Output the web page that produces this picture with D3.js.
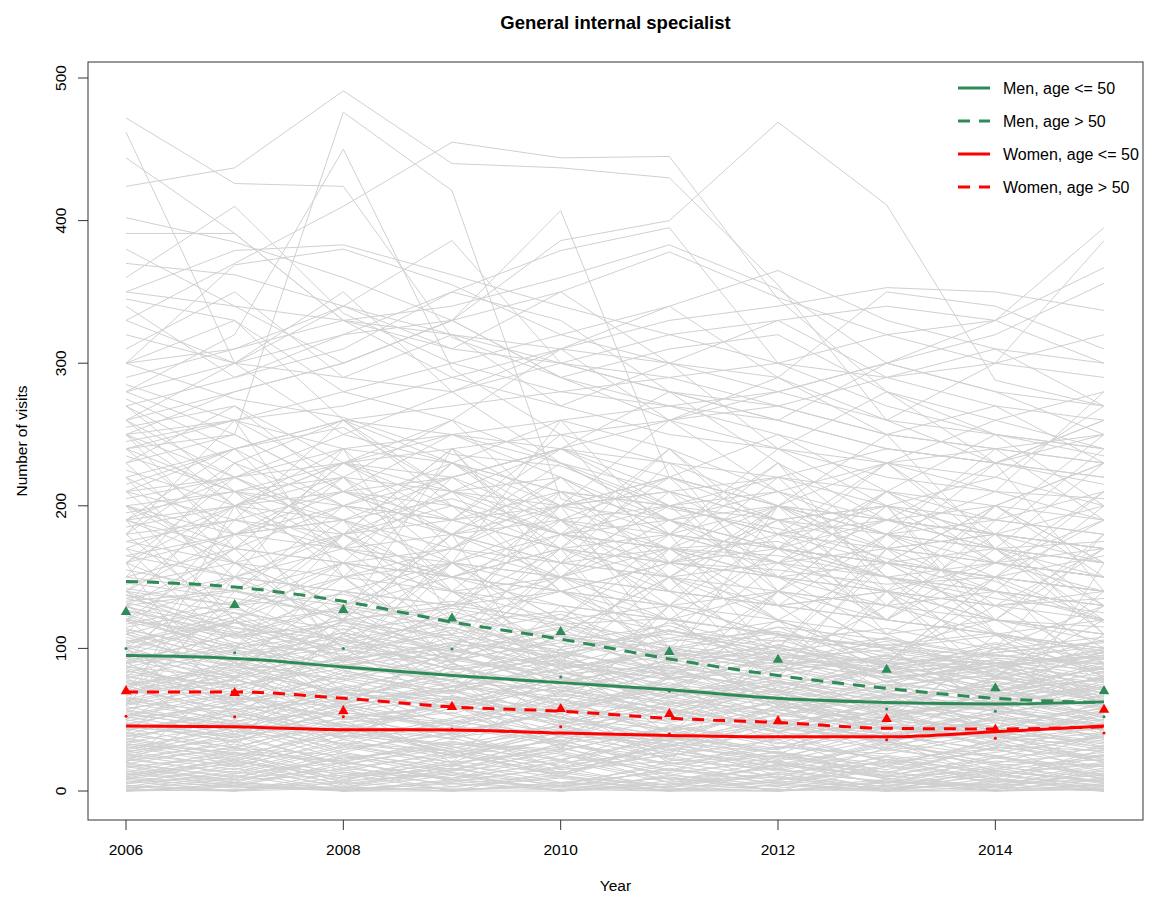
<!DOCTYPE html>
<html>
<head>
<meta charset="utf-8">
<script src="https://cdn.jsdelivr.net/npm/d3@7"></script>
<style>
  body { margin: 0; background: #fff; }
  svg { font-family: "Liberation Sans", Arial, Helvetica, sans-serif; display: block; }
</style>
</head>
<body>
<div id="chart"></div>
<script>
// years on x axis
const years = [2006, 2007, 2008, 2009, 2010, 2011, 2012, 2013, 2014, 2015];
const xTicks = [2006, 2008, 2010, 2012, 2014];
const yTicks = [0, 100, 200, 300, 400, 500];

// smoothed group trends
const menYoung   = [95, 93, 87, 81, 76, 71, 65, 62, 61, 62.5];
const menOld     = [147, 143, 133, 118.5, 106.5, 92.6, 81, 72, 65, 62];
const womenYoung = [45.6, 45, 43, 42.8, 40.6, 39, 38, 38, 41.5, 45.6];
const womenOld   = [69.5, 69.5, 65, 59, 56, 51, 48, 44, 43.5, 45];

// yearly means (triangles) and medians (small dots)
const menMean     = [125.5, 130.4, 127, 121, 111.5, 97.5, 92, 85, 72, 70];
const womenMean   = [70, 68.7, 56, 59, 57.5, 54, 49, 50.5, 43, 57];
const menMedian   = [100, 97, 100, 99.6, 80, 70, 65, 57.5, 56, 52];
const womenMedian = [52.5, 52, 52, 43.5, 45, 40, 38, 36, 37, 40.7];

// individual physicians (grey)
const highLines = [
  [472,426,424,318,290,260,240,230,220,200],
  [424,437,491,440,437,430,355,260,230,215],
  [462,300,250,230,210,200,190,180,170,160],
  [444,391,330,290,270,250,240,220,210,205],
  [240,250,476,421,205,180,170,160,150,140],
  [280,320,450,296,250,230,200,190,180,170],
  [360,410,335,300,280,270,250,230,240,250],
  [402,385,360,330,290,270,260,240,230,220],
  [330,370,410,455,444,445,345,280,250,235],
  [391,391,330,310,300,280,270,250,240,230],
  [300,369,380,355,320,300,280,260,250,240],
  [350,379,383,362,340,320,300,290,270,260],
  [370,362,340,320,300,290,270,250,240,230],
  [290,310,340,386,300,280,260,240,230,220],
  [250,280,300,330,407,220,200,190,180,170],
  [270,290,320,350,379,395,300,270,250,240],
  [260,280,300,330,386,400,469,411,288,270],
  [300,310,330,340,360,383,352,300,280,270],
  [280,300,320,330,350,378,346,320,300,290],
  [250,260,280,300,320,340,365,330,310,300],
  [240,260,270,290,310,330,340,353,350,337],
  [220,240,260,270,280,290,300,320,330,395],
  [200,210,230,240,250,260,270,290,300,386],
  [210,220,230,250,260,270,280,300,330,367],
  [190,200,210,220,240,260,280,300,320,356],
  [350,340,330,320,310,300,290,350,340,310],
  [345,330,260,250,240,230,220,210,200,190],
  [320,300,290,280,300,320,330,340,330,300],
  [330,300,350,280,310,260,290,250,270,230],
  [310,350,290,320,270,300,240,280,230,260],
  [380,340,300,330,290,310,320,280,260,280],
  [260,300,340,310,350,300,330,290,310,270],
  [340,290,310,350,330,280,260,300,280,250],
  [300,330,280,260,310,340,290,260,300,320]
];

const midLines = [
  [285,260,240,250,230,210,220,200,190,180],
  [270,230,260,210,200,220,190,170,180,160],
  [255,270,230,220,240,200,180,190,170,175],
  [240,210,220,260,230,190,200,180,160,150],
  [230,250,210,200,180,190,170,160,150,140],
  [225,200,230,210,220,180,160,170,180,200],
  [215,240,200,190,210,200,180,160,170,150],
  [210,190,180,200,170,160,150,140,160,150],
  [205,220,240,230,200,210,190,200,180,170],
  [200,180,190,170,160,170,150,160,140,130],
  [195,210,200,220,190,180,200,170,160,150],
  [190,170,160,150,170,150,140,130,140,120],
  [185,200,220,210,180,160,170,150,130,140],
  [180,190,170,180,160,150,160,140,130,120],
  [175,160,180,190,170,180,160,150,140,130],
  [170,200,190,160,150,140,130,140,120,110],
  [165,150,170,160,180,170,150,130,120,115],
  [160,180,170,150,140,160,150,140,130,135],
  [155,140,160,170,150,140,130,120,110,100],
  [150,170,160,140,150,130,120,110,120,105],
  [145,160,150,160,140,130,140,120,110,100],
  [140,130,150,140,130,120,110,100,90,95],
  [135,150,140,130,120,130,110,100,95,90],
  [130,140,120,130,140,120,110,100,90,85],
  [260,220,180,150,170,140,130,120,110,120],
  [120,150,180,210,240,220,200,180,190,210],
  [110,130,160,150,180,200,220,240,230,250],
  [100,120,150,170,200,190,210,230,210,280],
  [300,275,262,236,228,198,184,163,147,118],
  [90,110,140,160,150,180,170,190,200,230],
  [275,240,255,210,190,170,175,150,140,130],
  [245,260,220,180,200,210,170,160,150,165],
  [235,210,190,205,180,170,165,150,135,125],
  [220,180,200,190,170,160,155,145,150,140],
  [180,230,200,180,190,200,210,180,170,160],
  [160,200,230,200,180,170,160,190,180,170],
  [140,180,210,250,220,190,170,160,150,140],
  [130,170,200,230,260,240,210,190,170,160],
  [150,140,130,160,190,220,250,210,190,180],
  [170,150,140,130,150,170,200,230,260,240],
  [120,110,130,150,140,160,180,200,220,270],
  [200,160,130,120,140,130,110,100,120,110],
  [210,240,260,230,210,190,170,150,160,170],
  [250,200,170,150,130,120,140,130,110,100],
  [280,250,210,180,160,150,130,140,120,110],
  [190,220,250,280,230,200,180,170,160,150],
  [175,190,210,190,200,220,200,180,210,190],
  [165,180,190,220,240,210,190,200,180,240]
];

const lowLines = [
  [95,120,88,102,76,91,70,84,66,79],
  [130,104,96,115,89,78,93,72,85,64],
  [42,58,37,66,49,31,55,40,28,47],
  [12,5,18,3,9,0,7,2,11,4],
  [74,51,68,83,59,72,47,61,53,70],
  [26,38,19,30,44,22,15,33,20,27],
  [108,86,125,94,110,82,99,77,90,68],
  [3,14,0,8,2,16,5,0,9,1],
  [61,79,55,48,70,63,41,57,50,36],
  [88,67,80,95,74,60,86,69,58,77],
  [35,22,47,29,18,40,26,13,31,21],
  [117,133,102,90,121,97,84,108,79,93],
  [52,40,63,71,45,56,38,49,60,42],
  [19,31,10,24,36,14,28,8,21,17],
  [140,112,98,126,105,116,92,87,101,83],
  [68,92,75,58,83,66,78,54,62,73],
  [7,0,13,5,1,10,0,6,3,12],
  [81,64,72,89,67,54,76,62,49,58],
  [45,66,51,39,57,70,44,35,52,46],
  [23,12,29,41,16,25,9,30,18,6],
  [101,79,114,87,95,72,103,81,69,88],
  [57,73,44,62,81,50,67,43,55,64],
  [30,45,26,17,39,33,21,37,14,25],
  [123,96,108,131,85,99,111,76,92,80],
  [9,22,4,15,27,6,18,11,2,14],
  [72,56,85,64,52,79,61,48,70,57],
  [48,34,59,43,65,38,30,53,41,33],
  [16,27,8,21,12,33,19,5,24,10],
  [112,90,78,103,97,84,71,95,82,66],
  [64,83,70,54,77,88,58,66,74,51],
  [38,50,27,45,32,24,46,35,19,39],
  [1,9,15,0,6,3,12,0,7,2],
  [91,110,84,73,99,80,67,88,76,63],
  [55,42,66,78,47,59,71,45,37,56],
  [28,17,36,23,42,29,16,34,25,11],
  [135,118,127,106,93,112,100,89,97,104],
  [79,98,63,87,71,57,82,68,59,75],
  [14,3,20,9,25,12,0,17,6,19],
  [104,125,92,81,109,94,86,73,100,85],
  [47,61,53,36,58,43,64,39,48,31],
  [21,35,14,28,10,37,23,15,30,8],
  [86,71,94,77,63,85,69,91,57,72],
  [59,46,38,67,52,35,60,47,42,62],
  [5,18,2,11,0,7,21,4,13,0],
  [119,101,88,97,114,79,91,84,73,98],
  [70,87,78,62,55,73,65,51,68,59],
  [33,24,43,37,21,46,31,26,39,22],
  [97,76,105,85,92,68,80,96,74,86],
  [11,26,6,19,31,9,3,22,14,7],
  [66,52,74,45,69,54,77,58,44,61],
  [40,57,32,50,35,61,42,29,53,37],
  [127,109,116,99,88,107,95,82,90,78],
  [18,7,25,13,4,20,10,0,16,5],
  [83,99,70,92,80,65,88,74,61,81],
  [50,37,62,41,56,47,33,59,45,30],
  [24,40,18,33,26,14,38,21,9,29],
  [106,88,119,95,78,101,85,92,70,87],
  [63,78,57,70,49,66,53,71,62,48],
  [2,11,0,6,17,1,8,14,0,5],
  [93,74,86,108,83,71,97,79,88,66],
  [36,54,45,27,49,39,58,32,43,35],
  [76,60,83,69,91,64,56,75,67,53],
  [13,29,21,7,16,32,11,24,4,18],
  [114,95,103,121,90,82,106,87,78,94],
  [53,69,41,58,73,48,62,39,54,67],
  [31,19,39,25,12,34,27,17,36,20],
  [99,118,107,85,96,113,90,80,84,76],
  [44,30,52,60,38,27,49,56,34,41],
  [8,20,12,0,14,4,19,9,1,15],
  [85,63,77,96,72,87,64,58,79,69],
  [69,84,61,76,58,51,73,64,57,46],
  [27,42,33,20,47,25,36,12,31,23],
  [132,115,99,110,124,98,87,103,93,89],
  [57,45,70,53,40,63,48,37,58,50],
  [4,0,10,16,3,0,13,7,0,9],
  [89,104,81,70,86,97,76,69,83,72],
  [41,28,48,55,33,44,26,51,38,27],
  [74,90,66,80,95,70,62,77,65,80],
  [17,6,24,11,30,15,5,22,12,3],
  [121,100,111,92,104,89,115,86,96,82],
  [49,63,36,51,64,42,53,46,33,55],
  [0,5,0,3,10,0,2,8,0,4],
  [65,48,73,61,46,69,55,43,64,52],
  [103,122,94,113,86,100,92,105,81,97],
  [34,47,29,40,22,36,50,28,41,34],
  [80,69,91,74,66,83,71,60,77,65],
  [22,13,31,18,38,23,14,29,19,12],
  [110,92,100,118,96,86,102,90,85,100],
  [60,75,52,47,68,58,44,63,56,45],
  [6,16,3,13,0,11,4,18,8,0],
  [94,80,99,86,75,92,81,71,88,73],
  [46,35,57,42,54,32,47,38,50,43],
  [29,44,22,35,17,31,41,20,27,38],
  [138,107,120,100,115,94,108,97,88,106],
  [71,57,64,84,60,76,52,67,72,58],
  [10,23,7,26,13,2,19,10,25,8],
  [87,102,79,68,90,74,95,83,67,84],
  [52,67,46,37,62,55,41,66,48,39],
  [20,9,27,15,33,18,7,25,15,32],
  [67,81,59,71,54,80,63,50,69,60],
  [3,0,6,1,4,9,0,2,5,0],
  [0,4,1,7,0,3,6,0,1,8],
  [15,8,11,19,6,13,21,9,4,16],
  [25,15,32,20,28,11,24,18,35,13],
  [37,26,21,34,29,43,19,31,24,40],
  [43,55,39,32,46,28,51,36,40,29],
  [9,2,7,12,0,5,10,3,14,6],
  [0,1,3,0,6,0,0,4,0,2],
  [32,21,42,27,35,19,30,41,23,17],
  [54,44,60,49,39,57,45,34,51,44],
  [11,19,5,14,22,8,16,1,12,20],
  [19,10,23,31,13,26,20,13,7,25],
  [62,49,56,65,51,43,59,53,38,57],
  [78,65,59,73,85,61,68,55,63,54],
  [2,6,0,0,4,1,0,7,3,0],
  [39,31,49,24,41,35,22,45,32,28],
  [73,88,69,59,79,67,74,56,80,63],
  [84,73,95,81,69,90,77,65,71,78],
  [126,111,91,104,117,92,97,83,103,86],
  [23,33,16,26,11,29,17,35,10,26],
  [5,12,20,8,3,15,9,1,6,11],
  [14,6,2,18,10,4,13,20,8,3],
  [28,36,44,31,22,38,27,19,33,24],
  [33,27,20,38,45,30,24,39,29,17],
  [47,39,55,46,34,51,42,57,36,44],
  [58,68,50,61,73,56,47,52,65,49],
  [77,62,71,66,58,74,69,53,61,72],
  [90,99,86,78,92,81,74,87,70,79],
  [102,91,111,98,87,94,101,83,90,77],
  [115,128,105,98,110,102,93,99,88,95],
  [124,102,118,109,99,113,96,90,104,92],
  [137,125,113,122,108,100,115,106,94,101],
  [142,130,138,118,126,112,105,114,99,108],
  [146,135,124,133,117,121,109,102,111,96],
  [8,3,1,5,11,2,0,6,4,9],
  [1,0,2,0,0,5,1,0,3,0],
  [0,3,0,2,1,0,4,0,0,1],
  [17,24,13,9,20,27,15,6,18,22],
  [26,18,34,28,15,21,31,24,12,19],
  [39,48,33,26,43,37,29,46,38,31],
  [45,38,51,59,42,35,48,40,55,37],
  [51,60,46,40,57,49,63,44,39,53],
  [63,55,69,58,48,62,53,68,56,47],
  [69,78,62,73,64,55,70,59,66,73],
  [82,74,89,77,70,86,79,66,74,63],
  [96,85,92,104,88,79,84,95,80,72],
  [105,118,99,91,106,97,89,93,86,99],
  [120,108,129,114,101,110,98,107,95,89],
  [133,141,120,128,116,107,119,100,109,98],
  [10,4,16,8,21,6,12,3,17,9],
  [21,30,25,14,33,19,27,11,23,30],
  [36,25,41,33,28,45,34,22,30,38],
  [56,47,43,60,52,38,57,49,45,58],
  [75,85,68,64,78,71,59,74,81,62],
  [98,88,106,93,82,99,91,79,87,94],
  [129,114,106,119,97,105,112,94,89,97],
  [12,21,9,16,5,18,25,10,14,7],
  [44,53,38,47,59,41,36,52,43,50],
  [87,79,93,100,82,88,75,85,92,71],
  [113,99,121,106,94,118,100,88,97,105]
];

const jumpyLines = [
  [30,120,60,20,90,150,70,40,110,60],
  [160,50,110,80,30,100,60,140,70,90],
  [60,200,90,130,170,80,120,60,100,40],
  [20,80,160,90,50,130,40,90,150,70],
  [140,90,40,120,200,100,60,30,80,130],
  [80,30,120,180,60,20,110,70,40,160],
  [200,120,70,40,100,160,220,150,90,60],
  [50,150,240,120,80,60,140,200,110,80],
  [100,40,80,160,260,180,90,50,30,100],
  [180,260,150,90,60,120,80,170,230,140],
  [120,70,30,90,150,210,130,80,40,20],
  [40,100,180,240,160,100,60,90,150,210],
  [250,170,100,60,30,80,140,100,60,40],
  [70,160,220,140,100,50,90,160,120,80],
  [20,60,110,70,130,80,30,50,100,180],
  [190,110,60,140,90,40,100,170,110,60],
  [90,180,120,240,150,90,200,130,180,110],
  [220,140,190,100,160,230,140,200,120,170],
  [150,230,170,120,210,140,100,180,240,190],
  [60,140,200,150,90,170,230,140,80,120],
  [230,160,110,190,250,160,120,90,140,200],
  [110,190,260,200,140,110,170,230,180,130],
  [170,100,150,220,170,240,180,120,170,230],
  [130,210,150,100,180,130,200,250,170,110],
  [240,180,220,160,110,150,90,130,200,160],
  [80,130,90,170,220,150,190,110,80,140],
  [190,240,170,210,140,100,160,120,190,250],
  [100,60,130,90,160,200,140,180,130,90],
  [260,200,240,170,210,160,190,140,100,130],
  [140,200,160,230,180,240,170,120,160,210],
  [70,120,180,130,190,120,80,140,200,150],
  [210,150,100,160,120,180,230,170,140,100],
  [120,170,230,260,190,140,200,160,120,180],
  [180,120,160,110,170,220,150,210,250,200],
  [50,90,140,110,70,130,180,230,170,120],
  [160,220,180,140,200,260,210,150,110,90],
  [230,270,210,180,150,120,170,210,160,140],
  [100,150,120,180,230,190,150,110,150,190],
  [270,210,170,230,190,150,200,160,200,230],
  [90,60,110,160,120,90,140,100,60,110],
  [200,170,230,190,240,280,230,190,230,260],
  [130,90,60,100,150,190,160,210,170,130],
  [250,220,190,140,120,170,130,180,150,120],
  [160,130,180,240,200,170,120,90,130,170],
  [110,80,120,70,110,150,120,160,200,160],
  [190,160,130,180,220,180,240,200,160,190]
];

const legendItems = [
  { label: "Men, age <= 50", color: "#2E8B57", dash: null },
  { label: "Men, age > 50", color: "#2E8B57", dash: "12,9" },
  { label: "Women, age <= 50", color: "#FF0000", dash: null },
  { label: "Women, age > 50", color: "#FF0000", dash: "12,9" }
];

const W = 1157, H = 908;
const box = { left: 88, right: 1143, top: 62, bottom: 820 };

const svg = d3.select("#chart").append("svg")
  .attr("width", W).attr("height", H);

const x = d3.scaleLinear().domain([2006, 2015]).range([126, 1104]);
const y = d3.scaleLinear().domain([0, 500]).range([791, 78]);

// grey spaghetti
const greyLine = d3.line()
  .x((d, i) => x(years[i]))
  .y(d => y(d));

const allGrey = [].concat(lowLines, midLines, jumpyLines, highLines);
svg.append("g")
  .selectAll("path")
  .data(allGrey)
  .enter().append("path")
    .attr("fill", "none")
    .attr("stroke", "#d0d0d0")
    .attr("stroke-width", 1)
    .attr("d", greyLine);

// smoothed trends
const smooth = d3.line()
  .x((d, i) => x(years[i]))
  .y(d => y(d))
  .curve(d3.curveMonotoneX);

const trends = [
  { values: menYoung, color: "#2E8B57", dash: null },
  { values: menOld, color: "#2E8B57", dash: "12,9" },
  { values: womenYoung, color: "#FF0000", dash: null },
  { values: womenOld, color: "#FF0000", dash: "12,9" }
];

svg.append("g")
  .selectAll("path")
  .data(trends)
  .enter().append("path")
    .attr("fill", "none")
    .attr("stroke", d => d.color)
    .attr("stroke-width", 3)
    .attr("stroke-dasharray", d => d.dash)
    .attr("d", d => smooth(d.values));

// means as triangles
const tri = d3.symbol().type(d3.symbolTriangle).size(48);
[[menMean, "#2E8B57"], [womenMean, "#FF0000"]].forEach(([vals, col]) => {
  svg.append("g")
    .selectAll("path")
    .data(vals)
    .enter().append("path")
      .attr("d", tri)
      .attr("fill", col)
      .attr("transform", (d, i) => `translate(${x(years[i])},${y(d)})`);
});

// medians as small dots
[[menMedian, "#2E8B57"], [womenMedian, "#FF0000"]].forEach(([vals, col]) => {
  svg.append("g")
    .selectAll("circle")
    .data(vals)
    .enter().append("circle")
      .attr("r", 1.5)
      .attr("fill", col)
      .attr("cx", (d, i) => x(years[i]))
      .attr("cy", d => y(d));
});

// frame
svg.append("rect")
  .attr("x", box.left).attr("y", box.top)
  .attr("width", box.right - box.left)
  .attr("height", box.bottom - box.top)
  .attr("fill", "none")
  .attr("stroke", "#333")
  .attr("stroke-width", 1);

// x axis
const xAxis = svg.append("g");
xAxis.selectAll("line")
  .data(xTicks)
  .enter().append("line")
    .attr("x1", d => x(d)).attr("x2", d => x(d))
    .attr("y1", box.bottom).attr("y2", box.bottom + 10)
    .attr("stroke", "#333");
xAxis.selectAll("text")
  .data(xTicks)
  .enter().append("text")
    .attr("x", d => x(d))
    .attr("y", 855)
    .attr("text-anchor", "middle")
    .style("font-size", "15.5px")
    .text(d => d);

// y axis
const yAxis = svg.append("g");
yAxis.selectAll("line")
  .data(yTicks)
  .enter().append("line")
    .attr("x1", box.left - 10).attr("x2", box.left)
    .attr("y1", d => y(d)).attr("y2", d => y(d))
    .attr("stroke", "#333");
yAxis.selectAll("text")
  .data(yTicks)
  .enter().append("text")
    .attr("transform", d => `translate(66,${y(d)}) rotate(-90)`)
    .attr("text-anchor", "middle")
    .style("font-size", "15.5px")
    .text(d => d);

// titles
svg.append("text")
  .attr("x", (box.left + box.right) / 2)
  .attr("y", 29)
  .attr("text-anchor", "middle")
  .style("font-size", "18.5px")
  .style("font-weight", "bold")
  .text("General internal specialist");

svg.append("text")
  .attr("x", (box.left + box.right) / 2)
  .attr("y", 891)
  .attr("text-anchor", "middle")
  .style("font-size", "15.5px")
  .text("Year");

svg.append("text")
  .attr("transform", `translate(27,${(box.top + box.bottom) / 2}) rotate(-90)`)
  .attr("text-anchor", "middle")
  .style("font-size", "15.5px")
  .text("Number of visits");

// legend
const legend = svg.append("g");
legendItems.forEach((it, i) => {
  const ly = 88 + i * 33;
  legend.append("line")
    .attr("x1", 958).attr("x2", 990)
    .attr("y1", ly).attr("y2", ly)
    .attr("stroke", it.color)
    .attr("stroke-width", 3)
    .attr("stroke-dasharray", it.dash);
  legend.append("text")
    .attr("x", 1003)
    .attr("y", ly + 5.5)
    .style("font-size", "16px")
    .text(it.label);
});
</script>
</body>
</html>
